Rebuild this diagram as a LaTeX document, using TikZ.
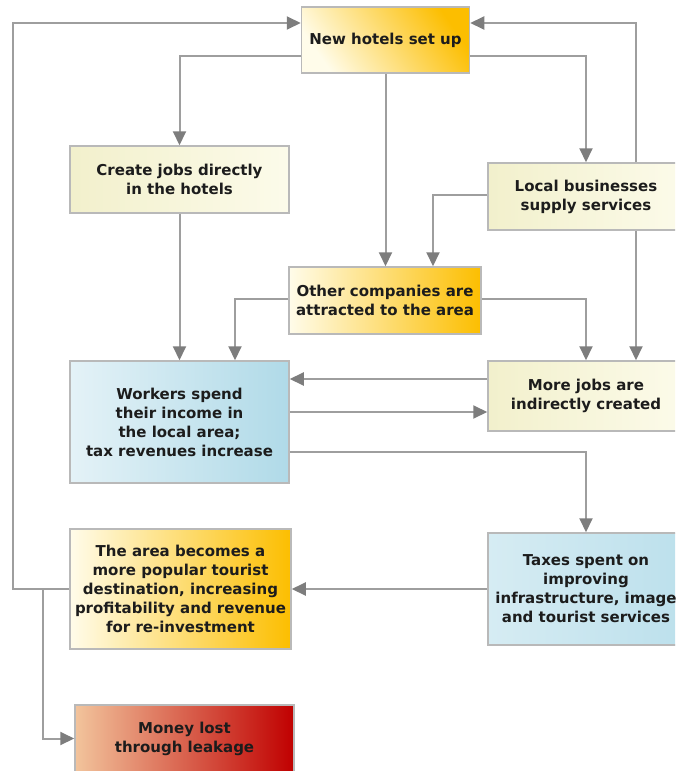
\documentclass[tikz,border=0pt]{standalone}
\usepackage{fontspec}
\setmainfont{DejaVu Sans}
\usetikzlibrary{arrows.meta,calc}
\definecolor{linec}{RGB}{158,158,158}
\definecolor{tipc}{RGB}{125,125,125}
\definecolor{boxborder}{RGB}{185,185,185}
\definecolor{gold}{RGB}{252,190,0}
\definecolor{cream}{RGB}{255,252,234}
\definecolor{paleA}{RGB}{242,240,204}
\definecolor{paleB}{RGB}{252,251,234}
\definecolor{blueA}{RGB}{228,242,247}
\definecolor{blueB}{RGB}{176,218,232}
\definecolor{blueC}{RGB}{214,236,243}
\definecolor{blueD}{RGB}{188,224,236}
\definecolor{peach}{RGB}{242,196,156}
\definecolor{darkred}{RGB}{192,0,0}
\definecolor{textc}{RGB}{28,28,28}
\tikzset{
  box/.style={draw=boxborder, line width=1.5pt, inner sep=0pt, align=center,
    text=textc, font=\bfseries\fontsize{15}{19}\selectfont},
  goldbox/.style={box, left color=cream, right color=gold},
  palebox/.style={box, left color=paleA, right color=paleB},
  bluebox/.style={box, left color=blueA, right color=blueB},
  conn/.style={draw=linec, line width=2pt,
    -{Triangle[length=14pt,width=13pt,color=tipc]}}
}
\begin{document}
\begin{tikzpicture}[x=1pt,y=-1pt]
\useasboundingbox (0,0) rectangle (675,771);
\clip (0,0) rectangle (675,771);

\node[goldbox, shading angle=125, minimum width=168pt, minimum height=66pt] (hotels) at (385.5,40) {New hotels set up};
\node[palebox, minimum width=219pt, minimum height=67pt] (create) at (179.5,179.5) {Create jobs directly\\in the hotels};
\node[palebox, minimum width=196pt, minimum height=67pt] (local) at (586,196.5) {Local businesses\\supply services};
\node[goldbox, minimum width=192pt, minimum height=67pt] (other) at (385,300.5) {Other companies are\\attracted to the area};
\node[bluebox, minimum width=219pt, minimum height=122pt] (workers) at (179.5,422) {Workers spend\\their income in\\the local area;\\tax revenues increase};
\node[palebox, minimum width=196pt, minimum height=70pt] (morejobs) at (586,396) {More jobs are\\indirectly created};
\node[goldbox, minimum width=221pt, minimum height=120pt] (area) at (180.5,589) {The area becomes a\\more popular tourist\\destination, increasing\\profitability and revenue\\for re-investment};
\node[box, left color=blueC, right color=blueD, minimum width=196pt, minimum height=112pt] (taxes) at (586,589) {Taxes spent on\\improving\\infrastructure, image\\and tourist services};
\node[box, left color=peach, right color=darkred, minimum width=219pt, minimum height=67pt] (money) at (184.5,738.5) {Money lost\\through leakage};

% feedback loops to the hotels
\draw[conn] (area.west) -- ++(-56.5,0) |- ([yshift=17pt]hotels.west);
\coordinate (split) at (43,589);
\draw[conn] (split) |- (money.west);
\draw[conn] ([xshift=50pt]local.north) |- ([yshift=17pt]hotels.east);

% from the hotels
\draw[conn] ([yshift=-16pt]hotels.west) -| (create.north);
\draw[conn] ([yshift=-16pt]hotels.east) -| (local.north);
\draw[conn] (hotels.south) -- (hotels.south |- other.north);
\draw[conn] ([yshift=1.5pt]local.west) -| ([xshift=48pt]other.north);

% to workers / more jobs
\draw[conn] (create.south) -- (create.south |- workers.north);
\draw[conn] ([yshift=1.5pt]other.west) -| ([xshift=55.5pt]workers.north);
\draw[conn] ([yshift=1.5pt]other.east) -| (morejobs.north);
\draw[conn] ([xshift=50pt]local.south) -- ([xshift=50pt]morejobs.north);

\coordinate (m1) at ([yshift=17pt]morejobs.west);
\draw[conn] (m1) -- (m1 -| workers.east);
\coordinate (w1) at ([yshift=10pt]workers.east);
\draw[conn] (w1) -- (w1 -| morejobs.west);
\draw[conn] ([yshift=-30pt]workers.east) -| (taxes.north);
\draw[conn] (taxes.west) -- (area.east);
\end{tikzpicture}
\end{document}
